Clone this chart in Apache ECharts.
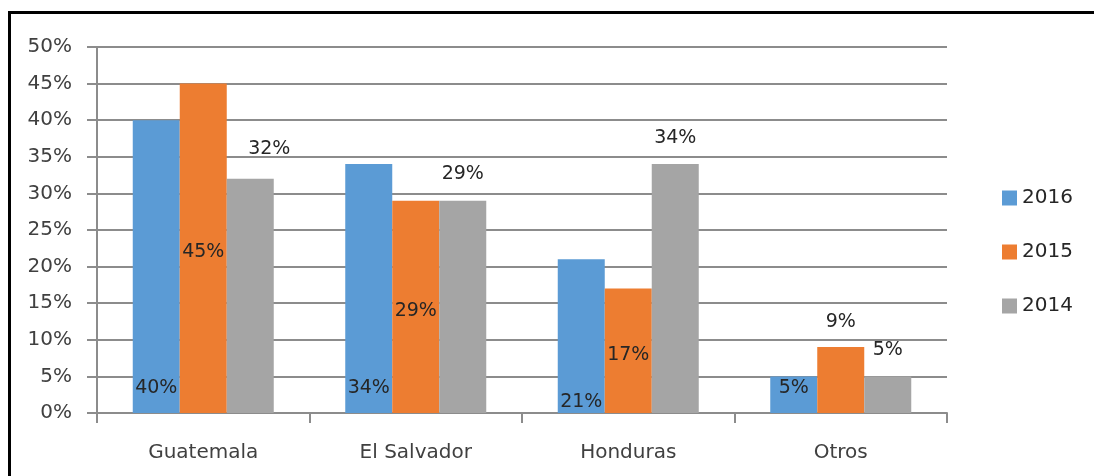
<!DOCTYPE html>
<html>
<head>
<meta charset="utf-8">
<script src="https://cdn.jsdelivr.net/npm/echarts@6/dist/echarts.min.js"></script>
<style>
  html, body { margin: 0; padding: 0; background: #fff; }
  #chart { width: 1094px; height: 476px; }
</style>
</head>
<body>
<div id="chart"></div>
<script>
const categories = ['Guatemala', 'El Salvador', 'Honduras', 'Otros'];
const seriesNames = ['2016', '2015', '2014'];
const values2016 = [40, 34, 21, 5];
const values2015 = [45, 29, 17, 9];
const values2014 = [32, 29, 34, 5];
const yTicks = [0, 5, 10, 15, 20, 25, 30, 35, 40, 45, 50];

const colors = ['#5B9BD5', '#ED7D31', '#A5A5A5'];
const FONT = '"DejaVu Sans", sans-serif';
const labelBase = { show: true, formatter: '{c}%', color: '#262626', fontSize: 19, fontFamily: FONT };

// label placement styles per series (mimics the original chart's label positions)
const labelStyles = [
  { base: { position: 'insideBottom', distance: 15 }, per: { 2: { distance: 1 } } },
  { base: { position: 'inside', offset: [0, 4] }, per: { 3: { position: 'top', distance: 16, offset: [0, 0] } } },
  { base: { position: 'top', distance: 17 }, per: { 0: { distance: 20, offset: [19, 0] } } }
];
const allValues = [values2016, values2015, values2014];

const series = allValues.map((vals, s) => ({
  name: seriesNames[s],
  type: 'bar',
  barWidth: 47,
  barGap: '0%',
  itemStyle: { color: colors[s] },
  label: Object.assign({}, labelBase, labelStyles[s].base),
  data: vals.map((v, i) => {
    const o = labelStyles[s].per[i];
    return o ? { value: v, label: Object.assign({}, labelBase, labelStyles[s].base, o) } : v;
  })
}));

const chart = echarts.init(document.getElementById('chart'), null, { renderer: 'canvas' });
chart.setOption({
  animation: false,
  backgroundColor: '#fff',
  grid: { left: 97, right: 147, top: 47, bottom: 63, containLabel: false },
  legend: {
    orient: 'vertical',
    left: 997,
    top: 183,
    itemWidth: 15,
    itemHeight: 15,
    itemGap: 34,
    icon: 'rect',
    data: seriesNames,
    textStyle: { fontSize: 20, fontFamily: FONT, color: '#262626', lineHeight: 20 }
  },
  xAxis: {
    type: 'category',
    data: categories,
    axisLine: { show: true, lineStyle: { color: '#8c8c8c', width: 2 } },
    axisTick: { show: true, length: 10, alignWithLabel: false, lineStyle: { color: '#8c8c8c', width: 2 } },
    axisLabel: { margin: 30, fontSize: 20, fontFamily: FONT, color: '#404040' },
    splitLine: { show: false }
  },
  yAxis: {
    type: 'value',
    min: yTicks[0],
    max: yTicks[yTicks.length - 1],
    interval: yTicks[1] - yTicks[0],
    axisLine: { show: true, lineStyle: { color: '#8c8c8c', width: 2 } },
    axisTick: { show: true, length: 10, lineStyle: { color: '#8c8c8c', width: 2 } },
    axisLabel: { formatter: '{value}%', margin: 25, fontSize: 20, fontFamily: FONT, color: '#404040' },
    splitLine: { show: true, lineStyle: { color: '#8c8c8c', width: 2 } }
  },
  graphic: [
    { type: 'line', shape: { x1: 8, y1: 12.5, x2: 1094, y2: 12.5 }, style: { stroke: '#000', lineWidth: 3 } },
    { type: 'line', shape: { x1: 9.5, y1: 11, x2: 9.5, y2: 476 }, style: { stroke: '#000', lineWidth: 3 } }
  ],
  series: series
});
</script>
</body>
</html>
